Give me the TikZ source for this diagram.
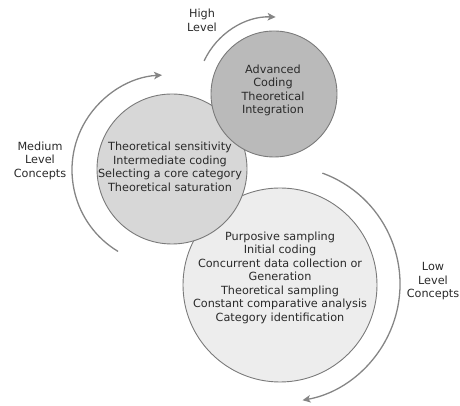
\documentclass[tikz,border=0pt]{standalone}
\usepackage{fontspec}
\setmainfont{DejaVu Sans}
\usetikzlibrary{arrows.meta}
\definecolor{edgegray}{HTML}{7A7A7A}
\definecolor{arcgray}{HTML}{858585}
\definecolor{textgray}{HTML}{2A2A2A}
\definecolor{highfill}{HTML}{BABABA}
\definecolor{medfill}{HTML}{D7D7D7}
\definecolor{lowfill}{HTML}{EDEDED}
\begin{document}
\begin{tikzpicture}[x=1pt,y=1pt,
  bubble/.style={circle, draw=edgegray, line width=0.9pt, inner sep=0pt},
  txt/.style={align=center, text=textgray, inner sep=0pt, font=\fontsize{11.25}{13.5}\selectfont},
  cyclearc/.style={draw=arcgray, line width=1.3pt, -{Stealth[length=8pt,width=7.5pt,inset=2pt]}}]
\useasboundingbox (0,0) rectangle (460,406);
% circles
\node[bubble, fill=lowfill, minimum size=194pt] (low) at (280,121) {};
\node[bubble, fill=medfill, minimum size=150pt] (med) at (172,237) {};
\node[bubble, fill=highfill, minimum size=126pt] (high) at (274,312) {};
% circle texts
\node[txt] (hightext) at (273,315.5) {Advanced\\Coding\\Theoretical\\Integration};
\node[txt] (medtext) at (170,239) {Theoretical sensitivity\\Intermediate coding\\Selecting a core category\\Theoretical saturation};
\node[txt] (lowtext) at (280,128.5) {Purposive sampling\\Initial coding\\Concurrent data collection or\\Generation\\Theoretical sampling\\Constant comparative analysis\\Category identification};
% labels
\node[txt] (highlabel) at (202,385.5) {High\\Level};
\node[txt] (medlabel) at (40,245.5) {Medium\\Level\\Concepts};
\node[txt] (lowlabel) at (433,124.5) {Low\\Level\\Concepts};
% arc centres
\coordinate (higharc) at (273,313);
\coordinate (medarc) at (167,236);
\coordinate (lowarc) at (282,122);
% arrows
\draw[cyclearc] ([shift={(155:76)}]higharc) arc[start angle=155, end angle=88, radius=76];
\draw[cyclearc] ([shift={(239:95)}]medarc) arc[start angle=239, end angle=93, radius=95];
\draw[cyclearc] ([shift={(70:118)}]lowarc) arc[start angle=70, end angle=-80, radius=118];
\end{tikzpicture}
\end{document}
